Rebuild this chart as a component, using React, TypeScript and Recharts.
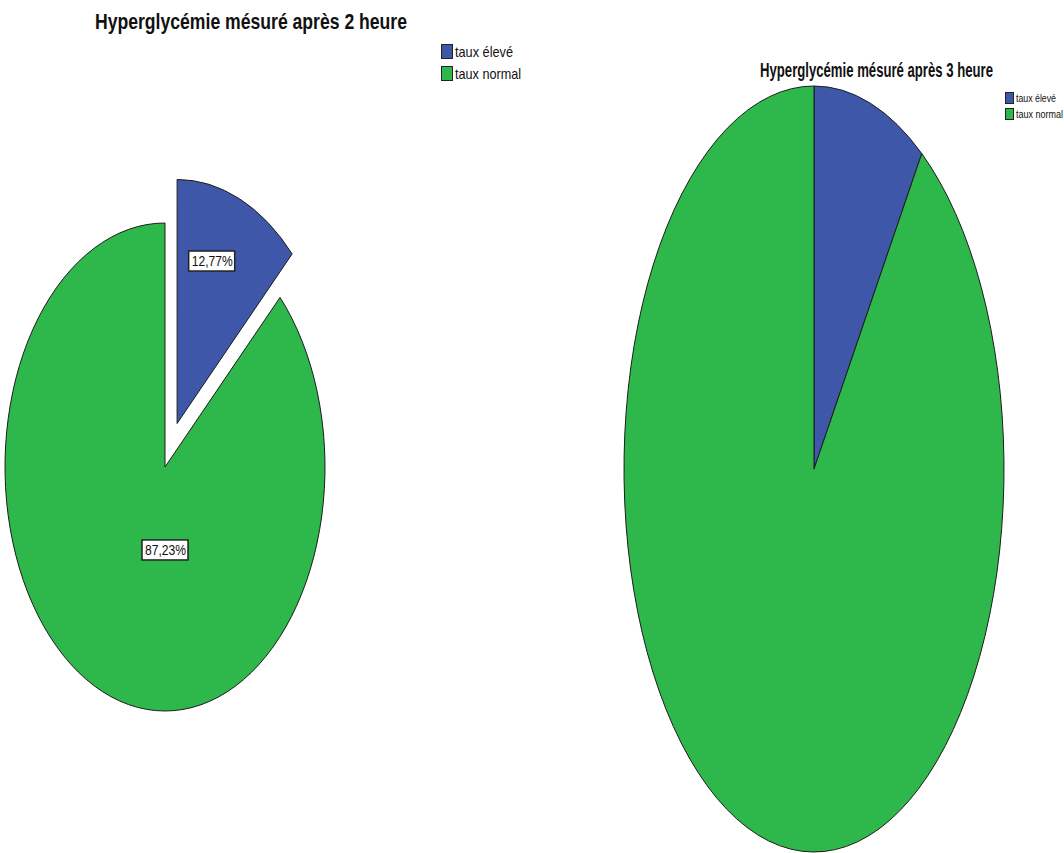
import React from "react"
import { PieChart, Pie, Cell, Legend } from "recharts"

// categories and values
const categories = ["taux élevé", "taux normal"]
const after2h = [12.77, 87.23]
const after3h = [9.6, 90.4]
const colors = ["#3f57a9", "#2eb84b"]

const titles = ["Hyperglycémie mésuré après 2 heure", "Hyperglycémie mésuré après 3 heure"]

const toData = (values: number[]) => values.map((v, i) => ({ name: categories[i], value: v }))

const rad = (d: number) => (d * Math.PI) / 180
const font = "Liberation Sans, Arial, sans-serif"

// the source image is squeezed sideways, so text is narrowed with a scale
function NarrowText({ x, y, sx, width, size, bold, children }: any) {
  return (
    <text
      transform={`translate(${x},${y}) scale(${sx},1)`}
      x={0}
      y={0}
      fontSize={size}
      fontWeight={bold ? "bold" : "normal"}
      fontFamily={font}
      fill="#111"
      textLength={width / sx}
      lengthAdjust="spacingAndGlyphs"
    >
      {children}
    </text>
  )
}

// pies in the picture are squashed into ellipses, so sectors get drawn by hand
function makeSector(ratio: number, explode: number[]) {
  return (props: any) => {
    const { cx, cy, outerRadius, startAngle, endAngle, fill, index } = props
    const mid = props.midAngle ?? (startAngle + endAngle) / 2
    const rx = outerRadius
    const ry = outerRadius * ratio
    const off = explode[index] || 0
    const x0 = cx + off * Math.cos(rad(mid))
    const y0 = cy - off * Math.sin(rad(mid)) * ratio
    const p1 = [x0 + rx * Math.cos(rad(startAngle)), y0 - ry * Math.sin(rad(startAngle))]
    const p2 = [x0 + rx * Math.cos(rad(endAngle)), y0 - ry * Math.sin(rad(endAngle))]
    const large = Math.abs(endAngle - startAngle) > 180 ? 1 : 0
    const sweep = startAngle > endAngle ? 1 : 0
    const d = `M${x0},${y0} L${p1[0]},${p1[1]} A${rx},${ry} 0 ${large} ${sweep} ${p2[0]},${p2[1]} Z`
    return <path d={d} fill={fill} stroke="#1c1c1c" strokeWidth={1} strokeLinejoin="round" />
  }
}

function makeLabel(ratio: number, explode: number[]) {
  return (props: any) => {
    const { cx, cy, outerRadius, startAngle, endAngle, index, value } = props
    const mid = props.midAngle ?? (startAngle + endAngle) / 2
    const off = explode[index] || 0
    const x0 = cx + off * Math.cos(rad(mid))
    const y0 = cy - off * Math.sin(rad(mid)) * ratio
    // small slice: label inside along its middle; big slice: label below the centre
    const ang = index === 0 ? mid + 5 : -90
    const frac = index === 0 ? 0.7 : 0.34
    const x = x0 + frac * outerRadius * Math.cos(rad(ang))
    const y = y0 - frac * outerRadius * ratio * Math.sin(rad(ang))
    const txt = `${Number(value).toFixed(2).replace(".", ",")}%`
    return (
      <g>
        <rect x={x - 23} y={y - 10} width={46} height={20} fill="#fff" stroke="#222" strokeWidth={1.5} />
        <NarrowText x={x - 20} y={y + 5} sx={0.87} width={41} size={14}>
          {txt}
        </NarrowText>
      </g>
    )
  }
}

function LegendBox({ sq, fs, gap, widths, sx, boxW }: any) {
  return (
    <svg width={boxW} height={gap * 2 + 4}>
      {categories.map((c, i) => (
        <g key={c}>
          <rect x={0.5} y={i * gap + 0.5} width={sq[0]} height={sq[1]} fill={colors[i]} stroke="#222" />
          <NarrowText x={sq[0] + 3} y={i * gap + sq[1] - 1} sx={sx} width={widths[i]} size={fs}>
            {c}
          </NarrowText>
        </g>
      ))}
    </svg>
  )
}

export default function App() {
  const leftExplode = [31, 0]
  const noExplode = [0, 0]
  return (
    <div style={{ position: "absolute", left: 0, top: 0, width: 1064, height: 853, background: "#fff", overflow: "hidden" }}>
      <div style={{ position: "absolute", left: 0, top: 0 }}>
        <PieChart width={540} height={853} margin={{ top: 0, right: 0, bottom: 0, left: 0 }}>
          <Pie
            data={toData(after2h)}
            dataKey="value"
            nameKey="name"
            cx={165}
            cy={467}
            outerRadius={160}
            startAngle={90}
            endAngle={-270}
            isAnimationActive={false}
            shape={makeSector(244 / 160, leftExplode)}
            inactiveShape={makeSector(244 / 160, leftExplode)}
            activeShape={makeSector(244 / 160, leftExplode)}
            label={makeLabel(244 / 160, leftExplode)}
            labelLine={false}
          >
            {after2h.map((_, i) => (
              <Cell key={i} fill={colors[i]} />
            ))}
          </Pie>
          <Legend
            content={() => <LegendBox sq={[11, 14]} fs={14} gap={22} widths={[58, 66]} sx={0.9} boxW={95} />}
            wrapperStyle={{ left: 441, top: 44, width: 95 }}
          />
        </PieChart>
        <svg style={{ position: "absolute", left: 0, top: 0 }} width={540} height={40}>
          <NarrowText x={95} y={29} sx={0.8} width={312} size={22} bold>
            {titles[0]}
          </NarrowText>
        </svg>
      </div>
      <div style={{ position: "absolute", left: 540, top: 0 }}>
        <PieChart width={524} height={853} margin={{ top: 0, right: 0, bottom: 0, left: 0 }}>
          <Pie
            data={toData(after3h)}
            dataKey="value"
            nameKey="name"
            cx={274}
            cy={469}
            outerRadius={190}
            startAngle={90}
            endAngle={-270}
            isAnimationActive={false}
            shape={makeSector(383 / 190, noExplode)}
            inactiveShape={makeSector(383 / 190, noExplode)}
            activeShape={makeSector(383 / 190, noExplode)}
            labelLine={false}
          >
            {after3h.map((_, i) => (
              <Cell key={i} fill={colors[i]} />
            ))}
          </Pie>
          <Legend
            content={() => <LegendBox sq={[8, 11]} fs={11} gap={16} widths={[40, 47]} sx={0.8} boxW={59} />}
            wrapperStyle={{ left: 465, top: 92, width: 59 }}
          />
        </PieChart>
        <svg style={{ position: "absolute", left: 0, top: 0 }} width={524} height={90}>
          <NarrowText x={220} y={77} sx={0.63} width={233} size={21} bold>
            {titles[1]}
          </NarrowText>
        </svg>
      </div>
    </div>
  )
}
